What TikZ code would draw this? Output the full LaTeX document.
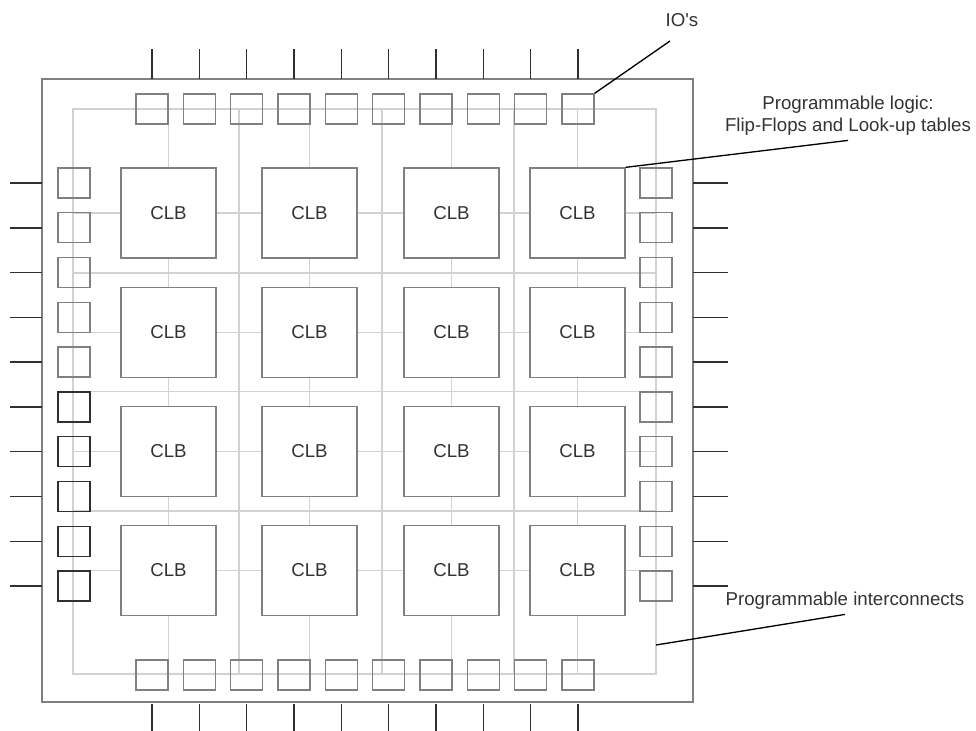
\documentclass[tikz,border=0pt]{standalone}
\usepackage{fontspec}
\setmainfont{Liberation Sans}

\definecolor{boxgray}{HTML}{808080}
\definecolor{wiregray}{HTML}{D2D2D2}
\definecolor{pindark}{HTML}{303030}
\definecolor{textdark}{HTML}{333333}

\begin{document}
\begin{tikzpicture}[x=0.75pt, y=-0.75pt,
    every node/.style={font=\fontsize{14}{16.5}\selectfont, text=textdark},
    clb/.style={draw=boxgray, fill=white, line width=1pt, minimum width=71.25pt, minimum height=67.5pt, inner sep=0pt},
    pad/.style={draw=boxgray, line width=1pt, minimum width=24pt, minimum height=22.5pt, inner sep=0pt},
    darkpad/.style={pad, draw=pindark},
    wire/.style={draw=wiregray, line width=1.1pt},
    pin/.style={draw=pindark, line width=1.1pt},
    leader/.style={draw=black, line width=1pt}]

    \useasboundingbox (0,0) rectangle (976,731);

    % chip outline
    \draw[draw=boxgray, line width=1pt] (42,79) rectangle (693,702);

    % interconnect grid
    \draw[wire] (73,109) rectangle (656,674);
    \foreach \x in {168.5,239,309.5,382,451.5,514,577.5}
        \draw[wire] (\x,109) -- (\x,674);
    \foreach \y in {213,273,332.5,391.5,451.5,511,570.5}
        \draw[wire] (73,\y) -- (656,\y);

    % CLBs, row 1
    \node[clb] (clb11) at (168.5,213) {CLB};
    \node[clb] (clb12) at (309.5,213) {CLB};
    \node[clb] (clb13) at (451.5,213) {CLB};
    \node[clb] (clb14) at (577.5,213) {CLB};

    % CLBs, row 2
    \node[clb] (clb21) at (168.5,332.5) {CLB};
    \node[clb] (clb22) at (309.5,332.5) {CLB};
    \node[clb] (clb23) at (451.5,332.5) {CLB};
    \node[clb] (clb24) at (577.5,332.5) {CLB};

    % CLBs, row 3
    \node[clb] (clb31) at (168.5,451.5) {CLB};
    \node[clb] (clb32) at (309.5,451.5) {CLB};
    \node[clb] (clb33) at (451.5,451.5) {CLB};
    \node[clb] (clb34) at (577.5,451.5) {CLB};

    % CLBs, row 4
    \node[clb] (clb41) at (168.5,570.5) {CLB};
    \node[clb] (clb42) at (309.5,570.5) {CLB};
    \node[clb] (clb43) at (451.5,570.5) {CLB};
    \node[clb] (clb44) at (577.5,570.5) {CLB};

    % IO pads and pins, top and bottom
    \foreach \i in {1,...,10} {
        \pgfmathsetmacro\px{152+47.33*(\i-1)}
        \node[pad] (top\i) at (\px,109) {};
        \node[pad] (bot\i) at (\px,675) {};
        \draw[pin] (\px,49) -- (\px,79);
        \draw[pin] (\px,704) -- (\px,731);
    }

    % IO pads and pins, left and right
    \foreach \i in {1,...,10} {
        \pgfmathsetmacro\py{183+44.78*(\i-1)}
        \ifnum\i>5
            \node[darkpad] (left\i) at (74,\py) {};
        \else
            \node[pad] (left\i) at (74,\py) {};
        \fi
        \node[pad] (right\i) at (656,\py) {};
        \draw[pin] (10,\py) -- (42,\py);
        \draw[pin] (693,\py) -- (728,\py);
    }

    % labels
    \node (iolbl) at (682,20) {IO\textquotesingle s};
    \node[align=center] (logiclbl) at (848,116) {Programmable logic:\\Flip-Flops and Look-up tables};
    \node (netlbl) at (845,601) {Programmable interconnects};

    % leaders
    \coordinate (iotip) at (670,41);
    \coordinate (nettip) at (656,645);
    \draw[leader] (top10.north east) -- (iotip);
    \draw[leader] (clb14.north east) -- (logiclbl.south);
    \draw[leader] (netlbl.south) -- (nettip);

\end{tikzpicture}
\end{document}
